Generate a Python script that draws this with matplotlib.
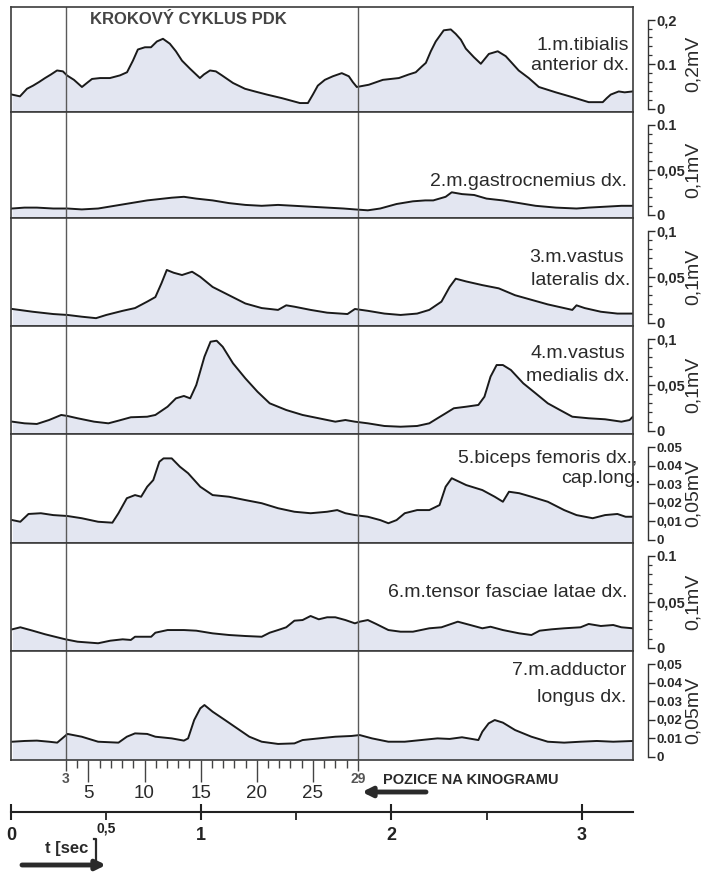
"""EMG krokový cyklus PDK - 7 svalů, časová osa a pozice na kinogramu."""
import matplotlib

matplotlib.use("Agg")
import matplotlib.pyplot as plt
import numpy as np
from matplotlib.ticker import FixedLocator, FixedFormatter

plt.rcParams["font.family"] = ["Liberation Sans", "DejaVu Sans"]

W, H = 716, 872

INK = "#1a1a1a"
TEXT = "#2a2a2a"
FILL = "#e3e6f1"
FRAME = "#3c3c3c"
CYCLE = "#5a5a5a"

# time axis (s)
T_MAX = 3.27
TIME_MAJOR = [0, 1, 2, 3]
TIME_MINOR = [0.5, 1.5, 2.5]
TIME_MINOR_LABELS = ["0,5", "", ""]

# kinogram frames -> time (s)
KINO_FRAMES = [3, 29]
KINO_TIMES = [0.289, 1.823]
KINO_LABELS = [5, 10, 15, 20, 25]

# 1. m. tibialis anterior
t1 = [0.005, 0.047, 0.084, 0.116, 0.147, 0.179, 0.210, 0.242, 0.273, 0.294,
      0.331, 0.373, 0.405, 0.426, 0.468, 0.520, 0.573, 0.610, 0.641, 0.667,
      0.704, 0.736, 0.767, 0.799, 0.835, 0.867, 0.899, 0.941, 0.993, 1.014,
      1.046, 1.077, 1.109, 1.167, 1.230, 1.282, 1.345, 1.424, 1.519, 1.561,
      1.587, 1.613, 1.650, 1.692, 1.739, 1.776, 1.797, 1.818, 1.881, 1.955,
      2.039, 2.091, 2.128, 2.160, 2.181, 2.207, 2.233, 2.275, 2.312, 2.338,
      2.365, 2.391, 2.433, 2.470, 2.512, 2.559, 2.601, 2.633, 2.669, 2.722,
      2.775, 2.864, 2.953, 3.037, 3.111, 3.132, 3.153, 3.195, 3.226, 3.268]
v1 = [0.032, 0.028, 0.045, 0.052, 0.060, 0.069, 0.077, 0.086, 0.084, 0.075,
      0.065, 0.049, 0.060, 0.067, 0.069, 0.069, 0.075, 0.082, 0.108, 0.133,
      0.138, 0.138, 0.151, 0.157, 0.146, 0.129, 0.108, 0.090, 0.069, 0.077,
      0.086, 0.084, 0.075, 0.058, 0.045, 0.039, 0.032, 0.024, 0.013, 0.013,
      0.032, 0.052, 0.065, 0.073, 0.080, 0.073, 0.060, 0.049, 0.054, 0.065,
      0.069, 0.077, 0.082, 0.095, 0.103, 0.129, 0.151, 0.176, 0.178, 0.168,
      0.155, 0.135, 0.116, 0.101, 0.123, 0.129, 0.118, 0.103, 0.086, 0.069,
      0.049, 0.037, 0.026, 0.015, 0.015, 0.024, 0.032, 0.039, 0.037, 0.039]

# 2. m. gastrocnemius
t2 = [0.005, 0.071, 0.136, 0.222, 0.297, 0.372, 0.458, 0.544, 0.630, 0.716,
      0.802, 0.845, 0.909, 0.974, 1.060, 1.146, 1.232, 1.318, 1.404, 1.490,
      1.575, 1.662, 1.748, 1.808, 1.876, 1.941, 2.027, 2.113, 2.178, 2.220,
      2.285, 2.317, 2.371, 2.435, 2.500, 2.585, 2.672, 2.758, 2.865, 2.973,
      3.037, 3.123, 3.209, 3.268]
v2 = [0.007, 0.008, 0.008, 0.007, 0.007, 0.006, 0.007, 0.010, 0.013, 0.016,
      0.018, 0.019, 0.020, 0.018, 0.016, 0.013, 0.011, 0.010, 0.011, 0.010,
      0.009, 0.008, 0.007, 0.006, 0.005, 0.007, 0.012, 0.015, 0.016, 0.016,
      0.020, 0.025, 0.023, 0.022, 0.018, 0.016, 0.013, 0.010, 0.008, 0.007,
      0.008, 0.009, 0.010, 0.010]

# 3. m. vastus lateralis
t3 = [0.007, 0.114, 0.222, 0.297, 0.372, 0.447, 0.501, 0.587, 0.652, 0.716,
      0.759, 0.791, 0.819, 0.855, 0.899, 0.952, 0.995, 1.060, 1.146, 1.232,
      1.318, 1.404, 1.447, 1.490, 1.575, 1.662, 1.769, 1.808, 1.876, 1.963,
      2.048, 2.135, 2.199, 2.263, 2.306, 2.338, 2.393, 2.478, 2.564, 2.650,
      2.736, 2.822, 2.908, 2.951, 2.973, 3.016, 3.101, 3.188, 3.269]
v3 = [0.015, 0.012, 0.0095, 0.0085, 0.0066, 0.005, 0.0085, 0.013, 0.016, 0.023,
      0.028, 0.043, 0.0575, 0.0545, 0.052, 0.0556, 0.050, 0.039, 0.030, 0.021,
      0.016, 0.014, 0.019, 0.0175, 0.014, 0.011, 0.0095, 0.015, 0.013, 0.010,
      0.0085, 0.010, 0.014, 0.023, 0.039, 0.048, 0.045, 0.041, 0.0375, 0.030,
      0.025, 0.020, 0.016, 0.014, 0.019, 0.016, 0.012, 0.010, 0.010]

# 4. m. vastus medialis
t4 = [0.007, 0.071, 0.136, 0.200, 0.264, 0.297, 0.350, 0.437, 0.512, 0.565,
      0.630, 0.716, 0.759, 0.823, 0.867, 0.909, 0.942, 0.974, 1.017, 1.049,
      1.081, 1.113, 1.167, 1.232, 1.296, 1.360, 1.447, 1.533, 1.618, 1.705,
      1.758, 1.808, 1.876, 1.963, 2.048, 2.135, 2.199, 2.242, 2.285, 2.328,
      2.393, 2.457, 2.489, 2.521, 2.553, 2.586, 2.628, 2.693, 2.758, 2.822,
      2.886, 2.951, 3.037, 3.123, 3.209, 3.252, 3.269]
v4 = [0.0099, 0.0081, 0.0074, 0.0117, 0.0172, 0.0161, 0.0136, 0.0099, 0.0081, 0.0110,
      0.0147, 0.0153, 0.0172, 0.0262, 0.0353, 0.0379, 0.0353, 0.0498, 0.0807, 0.0970,
      0.0981, 0.0915, 0.0735, 0.0571, 0.0425, 0.0299, 0.0226, 0.0172, 0.0136, 0.0099,
      0.0117, 0.0099, 0.0081, 0.0052, 0.0044, 0.0052, 0.0081, 0.0136, 0.0190, 0.0245,
      0.0262, 0.0281, 0.0371, 0.0589, 0.0716, 0.0716, 0.0662, 0.0517, 0.0408, 0.0299,
      0.0226, 0.0153, 0.0136, 0.0125, 0.0099, 0.0117, 0.0153]

# 5. biceps femoris, cap. long.
t5 = [0.007, 0.049, 0.092, 0.157, 0.222, 0.297, 0.372, 0.458, 0.533, 0.565,
      0.609, 0.652, 0.684, 0.716, 0.748, 0.780, 0.802, 0.845, 0.888, 0.931,
      0.995, 1.060, 1.146, 1.232, 1.318, 1.404, 1.490, 1.575, 1.662, 1.715,
      1.758, 1.808, 1.876, 1.941, 1.984, 2.027, 2.070, 2.135, 2.199, 2.253,
      2.285, 2.317, 2.393, 2.478, 2.543, 2.586, 2.618, 2.672, 2.736, 2.822,
      2.908, 2.973, 3.058, 3.123, 3.188, 3.231, 3.269]
v5 = [0.0106, 0.0097, 0.0139, 0.0143, 0.0133, 0.0128, 0.0116, 0.0097, 0.0092, 0.0143,
      0.0224, 0.0241, 0.0232, 0.0286, 0.0322, 0.0421, 0.0439, 0.0439, 0.0394, 0.0359,
      0.0286, 0.0241, 0.0232, 0.0214, 0.0197, 0.0170, 0.0151, 0.0143, 0.0151, 0.0160,
      0.0143, 0.0133, 0.0124, 0.0106, 0.0089, 0.0106, 0.0143, 0.0160, 0.0160, 0.0187,
      0.0286, 0.0332, 0.0295, 0.0268, 0.0232, 0.0205, 0.0259, 0.0251, 0.0232, 0.0205,
      0.0160, 0.0133, 0.0116, 0.0133, 0.0139, 0.0124, 0.0124]

# 6. m. tensor fasciae latae
t6 = [0.007, 0.049, 0.114, 0.179, 0.243, 0.286, 0.350, 0.458, 0.522, 0.587,
      0.630, 0.652, 0.737, 0.759, 0.823, 0.909, 0.974, 1.060, 1.146, 1.232,
      1.318, 1.360, 1.404, 1.447, 1.490, 1.533, 1.575, 1.618, 1.662, 1.705,
      1.758, 1.808, 1.833, 1.876, 1.920, 1.984, 2.048, 2.113, 2.199, 2.263,
      2.349, 2.414, 2.478, 2.521, 2.586, 2.672, 2.736, 2.779, 2.843, 2.908,
      2.994, 3.037, 3.101, 3.166, 3.209, 3.269]
v6 = [0.0201, 0.0223, 0.0186, 0.0147, 0.0114, 0.0092, 0.0066, 0.0049, 0.0077, 0.0092,
      0.0085, 0.0120, 0.0120, 0.0164, 0.0193, 0.0193, 0.0186, 0.0157, 0.0139, 0.0128,
      0.0120, 0.0164, 0.0193, 0.0223, 0.0295, 0.0302, 0.0346, 0.0310, 0.0332, 0.0332,
      0.0302, 0.0266, 0.0284, 0.0302, 0.0259, 0.0193, 0.0175, 0.0175, 0.0212, 0.0223,
      0.0284, 0.0248, 0.0212, 0.0229, 0.0193, 0.0157, 0.0139, 0.0186, 0.0201, 0.0212,
      0.0223, 0.0259, 0.0237, 0.0248, 0.0223, 0.0212]

# 7. m. adductor longus
t7 = [0.007, 0.071, 0.136, 0.200, 0.243, 0.297, 0.372, 0.458, 0.565, 0.609,
      0.652, 0.716, 0.759, 0.845, 0.909, 0.931, 0.963, 0.995, 1.017, 1.060,
      1.125, 1.189, 1.253, 1.318, 1.404, 1.490, 1.533, 1.618, 1.705, 1.790,
      1.833, 1.898, 1.984, 2.070, 2.156, 2.242, 2.306, 2.371, 2.457, 2.478,
      2.511, 2.543, 2.586, 2.650, 2.736, 2.822, 2.908, 2.994, 3.080, 3.166,
      3.269]
v7 = [0.0081, 0.0085, 0.0087, 0.0081, 0.0076, 0.0123, 0.0108, 0.0081, 0.0076, 0.0108,
      0.0126, 0.0123, 0.0108, 0.0099, 0.0087, 0.0099, 0.0198, 0.0261, 0.0279, 0.0243,
      0.0198, 0.0153, 0.0108, 0.0081, 0.0069, 0.0072, 0.0090, 0.0099, 0.0108, 0.0112,
      0.0117, 0.0099, 0.0081, 0.0081, 0.0090, 0.0099, 0.0096, 0.0105, 0.0090, 0.0135,
      0.0180, 0.0198, 0.0184, 0.0144, 0.0108, 0.0081, 0.0076, 0.0081, 0.0085, 0.0081,
      0.0085]

TIMES = [t1, t2, t3, t4, t5, t6, t7]
VALUES = [v1, v2, v3, v4, v5, v6, v7]

MUSCLE_LINES = [
    ["1.m.tibialis", "anterior dx."],
    ["2.m.gastrocnemius dx."],
    ["3.m.vastus", "lateralis dx."],
    ["4.m.vastus", "medialis dx."],
    ["5.biceps femoris dx.,", "cap.long."],
    ["6.m.tensor fasciae latae dx."],
    ["7.m.adductor", "longus dx."],
]
SCALE_MAX = [0.2, 0.1, 0.1, 0.1, 0.05, 0.1, 0.05]
SCALE_TICKS = [
    [0, 0.1, 0.2],
    [0, 0.05, 0.1],
    [0, 0.05, 0.1],
    [0, 0.05, 0.1],
    [0, 0.01, 0.02, 0.03, 0.04, 0.05],
    [0, 0.05, 0.1],
    [0, 0.01, 0.02, 0.03, 0.04, 0.05],
]
SCALE_LABELS = [
    ["0", "0.1", "0,2"],
    ["0", "0,05", "0.1"],
    ["0", "0,05", "0,1"],
    ["0", "0,05", "0,1"],
    ["0", "0,01", "0,02", "0.03", "0.04", "0.05"],
    ["0", "0,05", "0.1"],
    ["0", "0.01", "0,02", "0.03", "0.04", "0,05"],
]
SCALE_MINOR = [0.02, 0.01, 0.01, 0.01, None, 0.01, None]
UNIT_LABELS = ["0,2mV", "0,1mV", "0,1mV", "0,1mV", "0,05mV", "0,1mV", "0,05mV"]

# --- layout (pixels) ---
ROW_EDGES = [7, 112, 218, 326, 434, 543, 651, 760]
X0, X1 = 11, 633
LABEL_POS = [
    [(629, 46, "right"), (629, 66, "right")],
    [(627, 182, "right")],
    [(624, 257, "right"), (630, 280, "right")],
    [(625, 354, "right"), (630, 376, "right")],
    [(637, 458, "right"), (601, 478, "center")],
    [(628, 592, "right")],
    [(626, 670, "right"), (626, 697, "right")],
]


def px_axes(fig, x0, y0, x1, y1):
    return fig.add_axes([x0 / W, 1 - y1 / H, (x1 - x0) / W, (y1 - y0) / H])


fig = plt.figure(figsize=(W / 100, H / 100), dpi=100)
fig.patch.set_facecolor("white")

for i in range(7):
    ax = px_axes(fig, X0, ROW_EDGES[i], X1, ROW_EDGES[i + 1])
    m = SCALE_MAX[i]
    lo, hi = -0.03 / 0.85 * m, 0.97 / 0.85 * m
    ax.set_xlim(0, T_MAX)
    ax.set_ylim(lo, hi)
    ax.fill_between(TIMES[i], VALUES[i], lo, color=FILL, lw=0)
    ax.plot(TIMES[i], VALUES[i], color=INK, lw=1.4)
    for kt in KINO_TIMES:
        ax.axvline(kt, color=CYCLE, lw=1.0)
    ax.set_xticks([])
    for s in ["left", "top", "bottom"]:
        ax.spines[s].set_color(FRAME)
        ax.spines[s].set_linewidth(1.2)
    ax.plot([1, 1], [0, 1], transform=ax.transAxes, color=FRAME, lw=1.2, clip_on=False)

    # scale bar on the right
    sp = ax.spines["right"]
    sp.set_position(("outward", 11))
    sp.set_bounds(0, m)
    sp.set_color("#333333")
    sp.set_linewidth(1.0)
    ax.yaxis.tick_right()
    ax.yaxis.set_major_locator(FixedLocator(SCALE_TICKS[i]))
    ax.yaxis.set_major_formatter(FixedFormatter(SCALE_LABELS[i]))
    if SCALE_MINOR[i]:
        ax.yaxis.set_minor_locator(FixedLocator(np.arange(0, m + 1e-9, SCALE_MINOR[i])))
    dense = len(SCALE_TICKS[i]) > 3
    ax.tick_params(axis="y", which="major", direction="out", length=5, width=1.0,
                   pad=1, labelsize=9.5 if dense else 10.5, colors="#2a2a2a")
    ax.tick_params(axis="y", which="minor", direction="out", length=3, width=0.9,
                   colors="#333333")
    for lab in ax.get_yticklabels():
        lab.set_fontweight("bold")

    ax.text(1.097, 0.455, UNIT_LABELS[i], transform=ax.transAxes, rotation=90,
            ha="center", va="center", fontsize=14, color=TEXT)

    for line, (lx, ly, ha) in zip(MUSCLE_LINES[i], LABEL_POS[i]):
        fig.text(lx / W, 1 - ly / H, line, ha=ha, va="center", fontsize=14, color=TEXT)

fig.text(90 / W, 1 - 20 / H, "KROKOVÝ CYKLUS PDK", ha="left", va="center",
         fontsize=12, fontweight="bold", color="#444444")

# kinogram positions
axk = px_axes(fig, X0, 760, X1, 800)
axk.set_xlim(0, T_MAX)
axk.set_ylim(40, 0)
axk.axis("off")
frames = np.arange(KINO_FRAMES[0], KINO_FRAMES[1] + 1)
frame_t = np.interp(frames, KINO_FRAMES, KINO_TIMES)
lengths = np.where(np.isin(frames, KINO_FRAMES), 11, np.where(frames % 5 == 0, 22, 8))
axk.vlines(frame_t, 0, lengths, color="#444444", lw=1.0)
for f in KINO_LABELS:
    axk.text(np.interp(f, KINO_FRAMES, KINO_TIMES), 33, str(f), ha="center", va="center",
             fontsize=13.5, color=TEXT)
for f, kt in zip(KINO_FRAMES, KINO_TIMES):
    axk.text(kt, 19, str(f), ha="center", va="center", fontsize=10,
             fontweight="bold", color="#555555")

# time axis
axt = px_axes(fig, X0, 802, X1, 812)
axt.set_xlim(0, T_MAX)
axt.patch.set_visible(False)
for s in ["left", "right", "top"]:
    axt.spines[s].set_visible(False)
axt.spines["bottom"].set_bounds(0, T_MAX)
axt.spines["bottom"].set_linewidth(1.5)
axt.spines["bottom"].set_color("#222222")
axt.set_yticks([])
axt.set_xticks(TIME_MAJOR)
axt.set_xticklabels([str(v) for v in TIME_MAJOR])
axt.set_xticks(TIME_MINOR, minor=True)
axt.set_xticklabels(TIME_MINOR_LABELS, minor=True)
axt.tick_params(axis="x", which="major", direction="inout", length=12, width=1.5,
                pad=5, labelsize=13, colors="#222222")
axt.tick_params(axis="x", which="minor", direction="out", length=6, width=1.3,
                pad=1, labelsize=10, colors="#222222")
for lab in axt.get_xticklabels() + axt.get_xticklabels(minor=True):
    lab.set_fontweight("bold")

# annotations in pixel space
ov = fig.add_axes([0, 0, 1, 1])
ov.set_xlim(0, W)
ov.set_ylim(H, 0)
ov.axis("off")
ov.text(383, 780, "POZICE NA KINOGRAMU", ha="left", va="center", fontsize=10.5,
        fontweight="bold", color=TEXT)
ov.annotate("", xy=(362, 792), xytext=(426, 792),
            arrowprops=dict(arrowstyle="-|>", lw=3.5, color=TEXT, mutation_scale=14,
                            shrinkA=0, shrinkB=0))
ov.text(45, 848, "t [sec", ha="left", va="center", fontsize=12, fontweight="bold", color=TEXT)
ov.plot([94, 96, 96], [839, 839, 861], color=TEXT, lw=1.6)
ov.annotate("", xy=(106, 865), xytext=(22, 865),
            arrowprops=dict(arrowstyle="-|>", lw=3.5, color=TEXT, mutation_scale=14,
                            shrinkA=0, shrinkB=0))

fig.savefig("out.png", dpi=100, facecolor="white")
